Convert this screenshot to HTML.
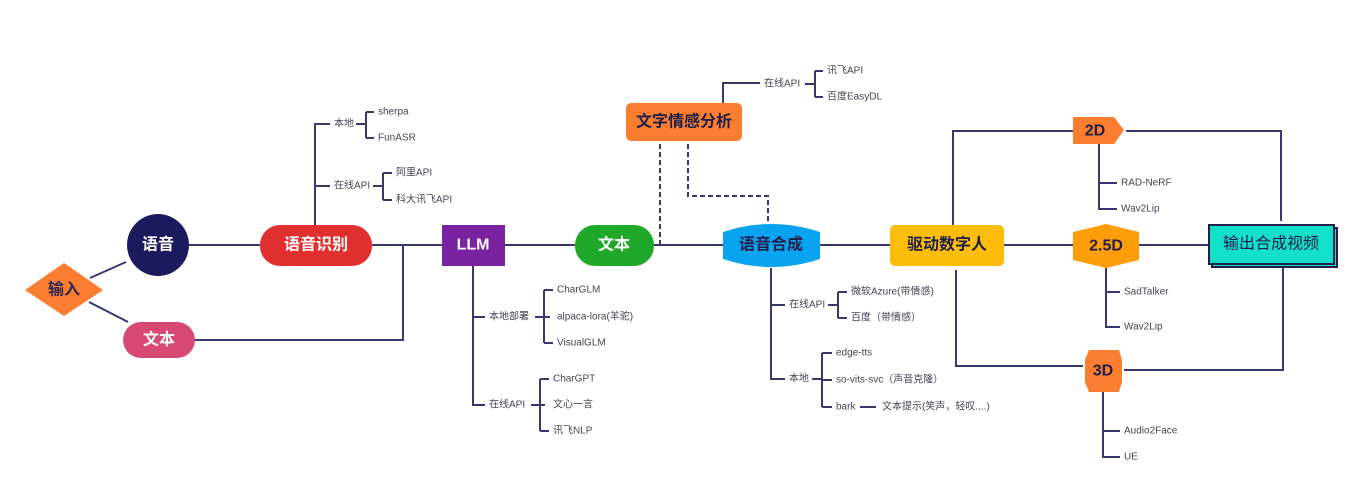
<!DOCTYPE html>
<html><head><meta charset="utf-8"><style>
html,body{margin:0;padding:0;background:#fff;}
svg{display:block;font-family:"Liberation Sans","Noto Sans CJK SC",sans-serif;}
.l{stroke:#38386e;stroke-width:2;fill:none;}
.d{stroke:#38386e;stroke-width:2;fill:none;stroke-dasharray:5 3;}
.t{font-size:10px;fill:#444458;dominant-baseline:middle;}
.n{font-size:16px;font-weight:bold;text-anchor:middle;dominant-baseline:central;}
</style></head><body>
<svg width="1361" height="480" viewBox="0 0 1361 480">
<path class="l" d="M90 278L126 262M89 302L128 322"/>
<path class="l" d="M189 245H260M372 245H442M195 340H403V245M505 245H575M654 245H723M820 245H890M1004 245H1073M1139 245H1209"/>
<path class="l" d="M315 225V124H330M315 186H330M356 124H366M366 112V138M366 112H374M366 138H374M373 186H383M383 173V200M383 173H392M383 200H392"/>
<text class="t" x="334" y="124">本地</text>
<text class="t" x="378" y="112">sherpa</text>
<text class="t" x="378" y="138">FunASR</text>
<text class="t" x="334" y="186">在线API</text>
<text class="t" x="396" y="173">阿里API</text>
<text class="t" x="396" y="200">科大讯飞API</text>
<path class="l" d="M473 266V405H485M473 317H485M535 317H550M544 290V343M544 290H553M544 343H553M531 405H545M540 379V431M540 379H549M540 431H549"/>
<text class="t" x="489" y="317">本地部署</text>
<text class="t" x="557" y="290">CharGLM</text>
<text class="t" x="557" y="317">alpaca-lora(羊驼)</text>
<text class="t" x="557" y="343">VisualGLM</text>
<text class="t" x="489" y="405">在线API</text>
<text class="t" x="553" y="379">CharGPT</text>
<text class="t" x="553" y="405">文心一言</text>
<text class="t" x="553" y="431">讯飞NLP</text>
<path class="d" d="M660 245V141M688 144V196H768V223"/>
<path class="l" d="M723 103V83H760M805 84H815M815 71V97M815 71H823M815 97H823"/>
<text class="t" x="764" y="84">在线API</text>
<text class="t" x="827" y="71">讯飞API</text>
<text class="t" x="827" y="97">百度EasyDL</text>
<path class="l" d="M771 268V379H785M771 305H785M828 305H838M838 292V318M838 292H847M838 318H847M812 379H822M822 353V407M822 353H832M822 380H832M822 407H832M860 407H876"/>
<text class="t" x="789" y="305">在线API</text>
<text class="t" x="851" y="292">微软Azure(带情感)</text>
<text class="t" x="851" y="318">百度（带情感）</text>
<text class="t" x="789" y="379">本地</text>
<text class="t" x="836" y="353">edge-tts</text>
<text class="t" x="836" y="380">so-vits-svc（声音克隆）</text>
<text class="t" x="836" y="407">bark</text>
<text class="t" x="882" y="407">文本提示(笑声，轻叹....)</text>
<path class="l" d="M953 225V131H1073M1126 131H1281V221M956 270V366H1083M1124 370H1283V267"/>
<path class="l" d="M1099 144V209H1117M1099 183H1117M1106 268V327H1120M1106 292H1120M1103 392V457H1120M1103 431H1120"/>
<text class="t" x="1121" y="183">RAD-NeRF</text>
<text class="t" x="1121" y="209">Wav2Lip</text>
<text class="t" x="1124" y="292">SadTalker</text>
<text class="t" x="1124" y="327">Wav2Lip</text>
<text class="t" x="1124" y="431">Audio2Face</text>
<text class="t" x="1124" y="457">UE</text>
<polygon points="64,263 103,290 64,316 25,290" fill="#fa7d30"/>
<text class="n" x="64" y="290" fill="#2a2a5a">输入</text>
<circle cx="158" cy="245" r="31" fill="#1c1a5e"/>
<text class="n" x="158" y="245" fill="#fff">语音</text>
<rect x="123" y="322" width="72" height="36" rx="18" fill="#d84a74"/>
<text class="n" x="159" y="340" fill="#fff">文本</text>
<rect x="260" y="225" width="112" height="41" rx="20" fill="#e02f2f"/>
<text class="n" x="316" y="245" fill="#fff">语音识别</text>
<rect x="442" y="225" width="63" height="41" fill="#7b22a0"/>
<text class="n" x="473" y="245" fill="#fff">LLM</text>
<rect x="575" y="225" width="79" height="41" rx="20" fill="#20a82a"/>
<text class="n" x="614" y="245" fill="#fff">文本</text>
<rect x="626" y="103" width="116" height="38" rx="5" fill="#fa7d30"/>
<text class="n" x="684" y="122" fill="#1f1f4a">文字情感分析</text>
<path d="M723 232Q771 216 820 232V259Q771 275 723 259Z" fill="#0aa3ef"/>
<text class="n" x="771" y="245" fill="#1f1f4a">语音合成</text>
<rect x="890" y="225" width="114" height="41" rx="5" fill="#fbbd0a"/>
<text class="n" x="947" y="245" fill="#1f1f4a">驱动数字人</text>
<polygon points="1073,232 1106,224 1139,232 1139,260 1106,268 1073,260" fill="#fd9d08"/>
<text class="n" x="1106" y="246" fill="#1f1f4a">2.5D</text>
<polygon points="1073,117 1114,117 1124,130 1114,144 1073,144" fill="#fa7d30"/>
<text class="n" x="1095" y="131" fill="#1f1f4a">2D</text>
<polygon points="1089,350 1119,350 1122,360 1122,382 1119,392 1089,392 1085,382 1085,360" fill="#fa7d30"/>
<text class="n" x="1103" y="371" fill="#1f1f4a">3D</text>
<rect x="1212" y="228" width="125" height="39" fill="#13e0c8" stroke="#1f1f4a" stroke-width="2"/>
<rect x="1209" y="225" width="125" height="39" fill="#13e0c8" stroke="#1f1f4a" stroke-width="2"/>
<text x="1271" y="244" font-size="16" text-anchor="middle" dominant-baseline="central" fill="#1f1f4a">输出合成视频</text>
</svg>
</body></html>
